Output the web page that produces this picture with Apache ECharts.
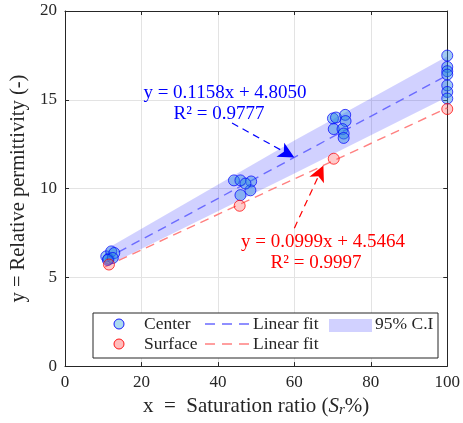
<!DOCTYPE html>
<html>
<head>
<meta charset="utf-8">
<script src="https://cdn.jsdelivr.net/npm/echarts@6/dist/echarts.min.js"></script>
<style>
  html, body { margin: 0; padding: 0; background: #ffffff; }
  #chart { width: 463px; height: 423px; }
</style>
</head>
<body>
<div id="chart"></div>
<script>
// Measured permittivity at the sample centre
const centerX = [10.8, 11.4, 12.1, 12.9, 12.5, 11.2,
                 44.2, 45.9, 48.7, 48.5, 45.9, 47.2,
                 70.1, 70.9, 73.3, 73.4, 70.3, 72.6, 72.9, 72.9,
                 100, 100, 100, 100, 100, 100, 100];
const centerY = [6.18, 6.05, 6.46, 6.37, 6.09, 5.98,
                 10.46, 10.46, 10.40, 9.90, 9.63, 10.28,
                 13.95, 14.00, 14.15, 13.80, 13.35, 13.35, 13.10, 12.85,
                 17.49, 16.85, 16.61, 16.42, 15.81, 15.44, 15.07];

// Measured permittivity at the sample surface
const surfaceX = [11.5, 45.7, 70.3, 100];
const surfaceY = [5.72, 9.03, 11.68, 14.48];

// Linear fits: [centre, surface]
const fitSlope = [0.1158, 0.0999];
const fitIntercept = [4.8050, 4.5464];
const fitR2 = [0.9777, 0.9997];
const fitXRange = [10.5, 100];

// 95% confidence band around the centre fit
const ciX = [10.5, 60, 100];
const ciLower = [5.60, 10.85, 15.15];
const ciUpper = [6.55, 12.70, 17.45];

// Axis ticks
const xTicks = [0, 20, 40, 60, 80, 100];
const yTicks = [0, 5, 10, 15, 20];

const FONT = '"Liberation Serif", "Times New Roman", serif';
const INK = '#262626';
const CENTER_FILL = 'rgba(40,135,222,0.55)';
const SURFACE_FILL = 'rgba(255,90,90,0.4)';
const BAND_FILL = 'rgba(0,0,255,0.18)';
const BLUE_FIT = '#6b6bff';
const RED_FIT = '#ff8080';
const SP = '\u2002';

const fitLine = (i) => fitXRange.map(x => [x, fitSlope[i] * x + fitIntercept[i]]);
const pairs = (xs, ys) => xs.map((x, i) => [x, ys[i]]);
const eqText = (i) => 'y = ' + fitSlope[i].toFixed(4) + 'x + ' + fitIntercept[i].toFixed(4);
const r2Text = (i) => 'R² = ' + fitR2[i].toFixed(4);

const chart = echarts.init(document.getElementById('chart'), null, { renderer: 'canvas' });

function baseAxis(ticks, pos, labels) {
  return {
    type: 'value',
    position: pos,
    min: ticks[0],
    max: ticks[ticks.length - 1],
    interval: ticks[1] - ticks[0],
    axisLine: { show: true, onZero: false, lineStyle: { color: INK, width: 1 } },
    axisTick: { show: true, inside: true, length: 4, lineStyle: { color: INK, width: 1 } },
    axisLabel: labels ? { show: true, fontFamily: FONT, fontSize: 17, color: INK, margin: 8 } : { show: false },
    splitLine: { show: labels, lineStyle: { color: '#e3e3e3', width: 1 } }
  };
}

const xMain = Object.assign(baseAxis(xTicks, 'bottom', true), {
  name: 'x' + SP + '=' + SP + 'Saturation ratio ({it|S}{sub|r}%)',
  nameLocation: 'middle',
  nameGap: 28,
  nameTextStyle: {
    fontFamily: FONT, fontSize: 21, color: INK,
    rich: {
      it: { fontFamily: FONT, fontSize: 21, fontStyle: 'italic', color: INK },
      sub: { fontFamily: FONT, fontSize: 15, fontStyle: 'italic', color: INK, padding: [8, 0, 0, 0] }
    }
  }
});
const yMain = Object.assign(baseAxis(yTicks, 'left', true), {
  name: 'y = Relative permittivity (-)',
  nameLocation: 'middle',
  nameGap: 36,
  nameTextStyle: { fontFamily: FONT, fontSize: 20.5, color: INK }
});

chart.setOption({
  animation: false,
  backgroundColor: '#ffffff',
  grid: { left: 63, right: 10, top: 11, bottom: 54, containLabel: false },
  xAxis: [xMain, baseAxis(xTicks, 'top', false)],
  yAxis: [yMain, baseAxis(yTicks, 'right', false)],
  series: [
    {
      name: '95% C.I',
      type: 'custom',
      xAxisIndex: 0, yAxisIndex: 0,
      clip: true,
      z: 1,
      data: [[ciX[0], ciLower[0]]],
      renderItem: function (params, api) {
        const pts = [];
        for (let i = 0; i < ciX.length; i++) pts.push(api.coord([ciX[i], ciUpper[i]]));
        for (let i = ciX.length - 1; i >= 0; i--) pts.push(api.coord([ciX[i], ciLower[i]]));
        return { type: 'polygon', shape: { points: pts }, style: { fill: BAND_FILL, stroke: null } };
      },
      silent: true
    },
    {
      name: 'Center fit',
      type: 'line',
      data: fitLine(0),
      symbol: 'none',
      z: 3,
      lineStyle: { color: BLUE_FIT, width: 1.4, type: [9, 6] },
      markLine: {
        silent: true,
        symbol: ['none', 'arrow'],
        symbolSize: [12, 16],
        label: { show: false },
        lineStyle: { color: '#0000ff', width: 1.2, type: [7, 5] },
        data: [[{ coord: [43.7, 13.69] }, { coord: [60.0, fitSlope[0] * 60 + fitIntercept[0]] }]]
      }
    },
    {
      name: 'Surface fit',
      type: 'line',
      data: fitLine(1),
      symbol: 'none',
      z: 3,
      lineStyle: { color: RED_FIT, width: 1.4, type: [9, 6] },
      markLine: {
        silent: true,
        symbol: ['none', 'arrow'],
        symbolSize: [12, 16],
        label: { show: false },
        lineStyle: { color: '#ff0000', width: 1.2, type: [7, 5] },
        data: [[{ coord: [60.0, 7.77] }, { coord: [67.6, fitSlope[1] * 67.6 + fitIntercept[1]] }]]
      }
    },
    {
      name: 'Center',
      type: 'scatter',
      data: pairs(centerX, centerY),
      symbol: 'circle',
      symbolSize: 11,
      z: 4,
      itemStyle: { color: CENTER_FILL, borderColor: '#0000ff', borderWidth: 0.9 }
    },
    {
      name: 'Surface',
      type: 'scatter',
      data: pairs(surfaceX, surfaceY),
      symbol: 'circle',
      symbolSize: 11,
      z: 4,
      itemStyle: { color: SURFACE_FILL, borderColor: '#ff0000', borderWidth: 0.9 }
    }
  ],
  graphic: [
    // fit equations
    { type: 'text', x: 225, y: 93, z: 20, style: { text: eqText(0), font: '19px ' + FONT, fill: '#0000ff', align: 'center', verticalAlign: 'middle' } },
    { type: 'text', x: 219, y: 114, z: 20, style: { text: r2Text(0), font: '19px ' + FONT, fill: '#0000ff', align: 'center', verticalAlign: 'middle' } },
    { type: 'text', x: 323, y: 242, z: 20, style: { text: eqText(1), font: '19px ' + FONT, fill: '#ff0000', align: 'center', verticalAlign: 'middle' } },
    { type: 'text', x: 316, y: 263, z: 20, style: { text: r2Text(1), font: '19px ' + FONT, fill: '#ff0000', align: 'center', verticalAlign: 'middle' } },
    // legend box
    { type: 'rect', z: 30, shape: { x: 93, y: 313, width: 345, height: 45 }, style: { fill: '#ffffff', stroke: INK, lineWidth: 1 } },
    { type: 'circle', z: 31, shape: { cx: 119, cy: 324, r: 5 }, style: { fill: 'rgba(70,175,215,0.45)', stroke: '#0000ff', lineWidth: 0.9 } },
    { type: 'text', z: 31, x: 144, y: 324, style: { text: 'Center', font: '17.5px ' + FONT, fill: INK, verticalAlign: 'middle' } },
    { type: 'line', z: 31, shape: { x1: 205, y1: 324, x2: 250, y2: 324 }, style: { stroke: BLUE_FIT, lineWidth: 1.4, lineDash: [10, 7] } },
    { type: 'text', z: 31, x: 253, y: 324, style: { text: 'Linear fit', font: '17.5px ' + FONT, fill: INK, verticalAlign: 'middle' } },
    { type: 'rect', z: 31, shape: { x: 329, y: 319, width: 43, height: 13 }, style: { fill: BAND_FILL } },
    { type: 'text', z: 31, x: 375, y: 324, style: { text: '95% C.I', font: '17.5px ' + FONT, fill: INK, verticalAlign: 'middle' } },
    { type: 'circle', z: 31, shape: { cx: 119, cy: 344, r: 5 }, style: { fill: SURFACE_FILL, stroke: '#ff0000', lineWidth: 0.9 } },
    { type: 'text', z: 31, x: 144, y: 344, style: { text: 'Surface', font: '17.5px ' + FONT, fill: INK, verticalAlign: 'middle' } },
    { type: 'line', z: 31, shape: { x1: 205, y1: 344, x2: 250, y2: 344 }, style: { stroke: RED_FIT, lineWidth: 1.4, lineDash: [10, 7] } },
    { type: 'text', z: 31, x: 253, y: 344, style: { text: 'Linear fit', font: '17.5px ' + FONT, fill: INK, verticalAlign: 'middle' } }
  ]
});
</script>
</body>
</html>
